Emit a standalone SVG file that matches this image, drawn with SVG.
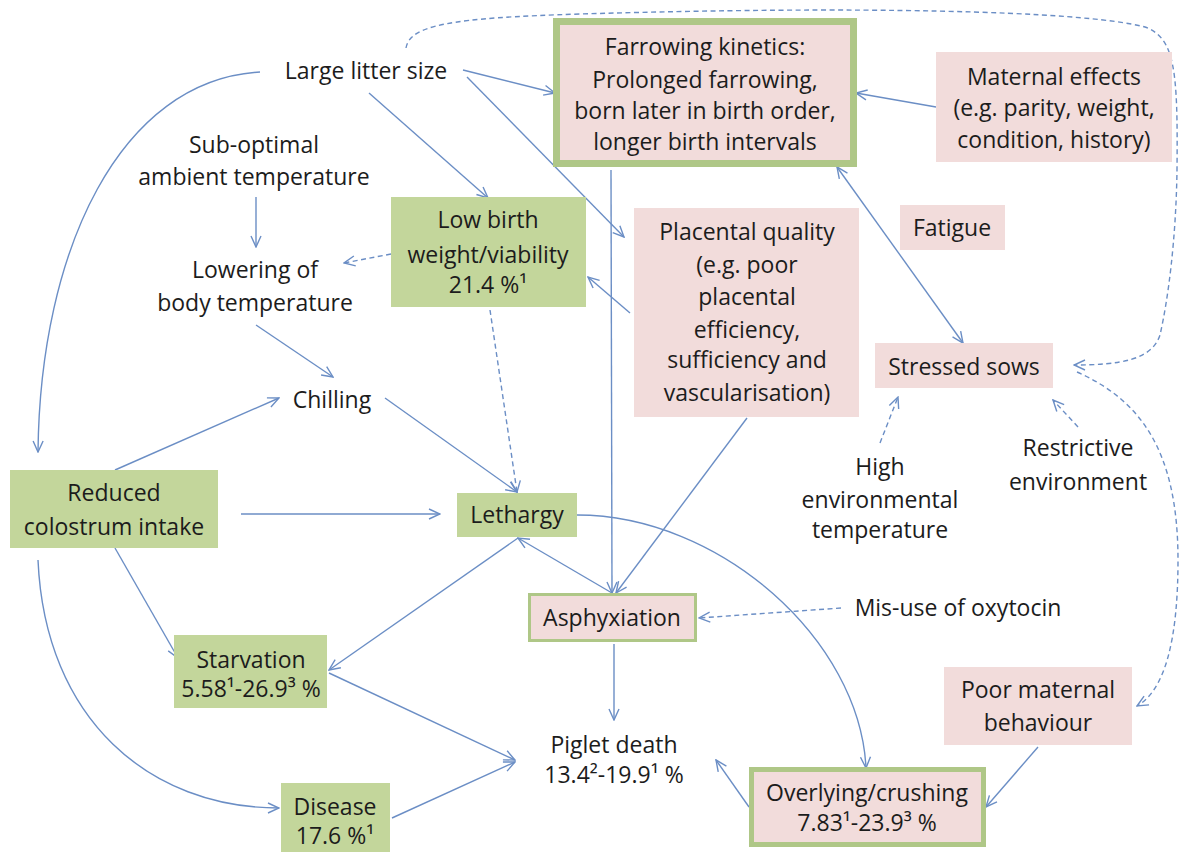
<svg xmlns="http://www.w3.org/2000/svg" width="1181" height="852" viewBox="0 0 1181 852">
<style>
text{font-family:"Open Sans","Liberation Sans",sans-serif;font-size:23px;fill:#1c1c1c;text-anchor:middle}
.g{fill:#c3d69b}
.p{fill:#f2dcdb}
.pb{fill:#f2dcdb;stroke:#afc787}
.c{fill:none;stroke:#6b8ec5;stroke-width:1.4}
.d{stroke-dasharray:5 3.5}
</style>
<defs>
<marker id="ah" viewBox="0 0 14 14" refX="13" refY="7" markerWidth="14" markerHeight="14" orient="auto-start-reverse" markerUnits="userSpaceOnUse">
<path d="M2,2 L13,7 L2,12" fill="none" stroke="#6b8ec5" stroke-width="1.4"/>
</marker>
</defs>
<g id="connectors">
<path class="c" d="M463,70 L555,93" marker-end="url(#ah)"/>
<path class="c" d="M467,77 L624,237" marker-end="url(#ah)"/>
<path class="c" d="M369,93 L488,198" marker-end="url(#ah)"/>
<path class="c" d="M260,72 C120,80 40,250 38,452" marker-end="url(#ah)"/>
<path class="c" d="M256,197 L256,247" marker-end="url(#ah)"/>
<path class="c" d="M256,325 L333,377" marker-end="url(#ah)"/>
<path class="c" d="M115,470 L279,398" marker-end="url(#ah)"/>
<path class="c" d="M385,398 L517,492" marker-end="url(#ah)"/>
<path class="c" d="M241,514 L440,514" marker-end="url(#ah)"/>
<path class="c" d="M115,548 L178,658" marker-end="url(#ah)"/>
<path class="c" d="M38,560 C45,720 150,808 279,808" marker-end="url(#ah)"/>
<path class="c" d="M611,170 L612,593" marker-end="url(#ah)"/>
<path class="c" d="M747,418 L616,593" marker-end="url(#ah)"/>
<path class="c" d="M630,313 L588,277" marker-end="url(#ah)"/>
<path class="c" d="M936,107 L856,93" marker-end="url(#ah)"/>
<path class="c" d="M837,167 L963,343" marker-start="url(#ah)" marker-end="url(#ah)"/>
<path class="c" d="M612,593 L518,538" marker-end="url(#ah)"/>
<path class="c" d="M518,538 L329,670" marker-end="url(#ah)"/>
<path class="c" d="M329,673 L515,760" marker-end="url(#ah)"/>
<path class="c" d="M392,818 L515,762" marker-end="url(#ah)"/>
<path class="c" d="M614,644 L614,720" marker-end="url(#ah)"/>
<path class="c" d="M577,515 C720,515 860,640 866,768" marker-end="url(#ah)"/>
<path class="c" d="M749,807 L716,760" marker-end="url(#ah)"/>
<path class="c" d="M1038,747 L986,807" marker-end="url(#ah)"/>
<path class="c d" d="M391,254 L344,263" marker-end="url(#ah)"/>
<path class="c d" d="M490,310 L517,492" marker-end="url(#ah)"/>
<path class="c d" d="M841,608 L699,618" marker-end="url(#ah)"/>
<path class="c d" d="M880,443 L898,397" marker-end="url(#ah)"/>
<path class="c d" d="M1078,427 L1053,400" marker-end="url(#ah)"/>
<path class="c d" d="M406,48 C410,25 450,18 580,14 C850,6 1080,10 1145,27 C1175,38 1178,70 1177,170 C1176,240 1168,300 1160,335 C1152,360 1120,365 1074,365" marker-end="url(#ah)"/>
<path class="c d" d="M1077,372 C1140,400 1178,450 1178,560 C1178,640 1165,690 1137,706" marker-end="url(#ah)"/>
</g>
<g id="large-litter"><text x="366" y="79">Large litter size</text></g>
<g id="sub-optimal"><text x="254" y="153">Sub-optimal</text><text x="254" y="185">ambient temperature</text></g>
<g id="lowering"><text x="255" y="278">Lowering of</text><text x="255" y="311">body temperature</text></g>
<g id="chilling"><text x="332" y="408">Chilling</text></g>
<g id="low-birth"><rect class="g" x="391" y="197" width="195" height="110"/><text x="488" y="228">Low birth</text><text x="488" y="263">weight/viability</text><text x="488" y="293">21.4 %¹</text></g>
<g id="farrowing"><rect class="pb" x="556.5" y="21.5" width="297" height="142" stroke-width="7"/><text x="705" y="55">Farrowing kinetics:</text><text x="705" y="88">Prolonged farrowing,</text><text x="705" y="119">born later in birth order,</text><text x="705" y="150">longer birth intervals</text></g>
<g id="maternal"><rect class="p" x="936" y="52" width="236" height="110"/><text x="1054" y="85">Maternal effects</text><text x="1054" y="116">(e.g. parity, weight,</text><text x="1054" y="148">condition, history)</text></g>
<g id="placental"><rect class="p" x="634" y="208" width="225" height="209"/><text x="747" y="240">Placental quality</text><text x="747" y="273">(e.g. poor</text><text x="747" y="305">placental</text><text x="747" y="338">efficiency,</text><text x="747" y="368">sufficiency and</text><text x="747" y="401">vascularisation)</text></g>
<g id="fatigue"><rect class="p" x="900" y="205" width="105" height="45"/><text x="952" y="236">Fatigue</text></g>
<g id="stressed"><rect class="p" x="875" y="343" width="178" height="45"/><text x="964" y="375">Stressed sows</text></g>
<g id="high-temp"><text x="880" y="475">High</text><text x="880" y="508">environmental</text><text x="880" y="538">temperature</text></g>
<g id="restrictive"><text x="1078" y="456">Restrictive</text><text x="1078" y="490">environment</text></g>
<g id="colostrum"><rect class="g" x="10" y="470" width="208" height="78"/><text x="114" y="501">Reduced</text><text x="114" y="535">colostrum intake</text></g>
<g id="lethargy"><rect class="g" x="457" y="493" width="120" height="44"/><text x="517" y="523">Lethargy</text></g>
<g id="asphyxiation"><rect class="pb" x="529.5" y="594.5" width="166" height="46" stroke-width="3"/><text x="612" y="626">Asphyxiation</text></g>
<g id="oxytocin"><text x="958" y="616">Mis-use of oxytocin</text></g>
<g id="starvation"><rect class="g" x="174" y="635" width="153" height="73"/><text x="251" y="668">Starvation</text><text x="251" y="697">5.58¹-26.9³ %</text></g>
<g id="disease"><rect class="g" x="281" y="783" width="109" height="69"/><text x="335" y="815">Disease</text><text x="335" y="844">17.6 %¹</text></g>
<g id="piglet-death"><text x="614" y="753">Piglet death</text><text x="614" y="783">13.4²-19.9¹ %</text></g>
<g id="poor-maternal"><rect class="p" x="944" y="667" width="188" height="78"/><text x="1038" y="698">Poor maternal</text><text x="1038" y="731">behaviour</text></g>
<g id="overlying"><rect class="pb" x="751.5" y="769.5" width="232" height="75" stroke-width="5"/><text x="867" y="801">Overlying/crushing</text><text x="867" y="831">7.83¹-23.9³ %</text></g>
</svg>
